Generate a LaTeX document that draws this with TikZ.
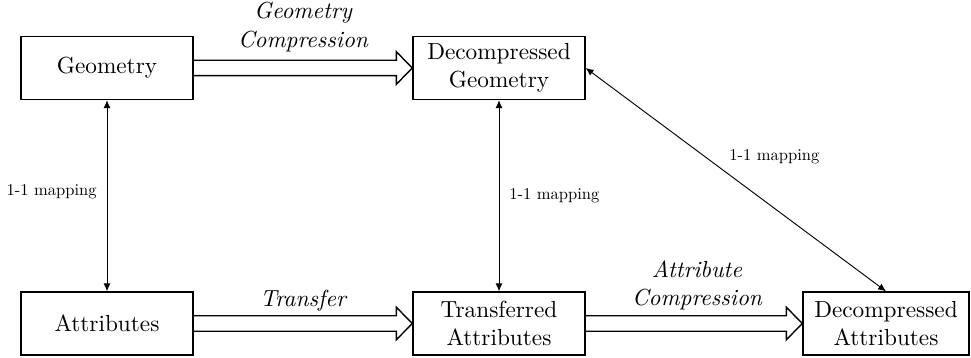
\documentclass[tikz,border=0pt]{standalone}
\usetikzlibrary{arrows.meta,calc}
\begin{document}
\begin{tikzpicture}[x=0.43pt,y=-0.43pt,
  box/.style={draw,line width=0.6pt,rectangle,inner sep=0pt,minimum width={172*0.43pt},minimum height={63*0.43pt},align=center,font=\fontsize{10}{12.2}\selectfont},
  fat/.style={line width=0.6pt,line join=miter},
  thinarr/.style={line width=0.4pt,{Latex[length=3.4pt,width=3pt]}-{Latex[length=3.4pt,width=3pt]}},
  maplab/.style={font=\fontsize{10}{12}\selectfont,inner sep=0pt},
  arrlab/.style={font=\fontsize{10}{12.2}\selectfont\itshape,align=center,inner sep=0pt}]
\useasboundingbox (0,0) rectangle (971,358);
\node[box] (geo) at (107,68) {Geometry};
\node[box] (dgeo) at (499,68) {Decompressed\\Geometry};
\node[box] (attr) at (107,323.5) {Attributes};
\node[box] (tattr) at (499,323.5) {Transferred\\Attributes};
\node[box,minimum width={166*0.43pt}] (dattr) at (886,323.5) {Decompressed\\Attributes};
\newcommand\fatarrow[2]{%
  \draw[fat] ($(#1.east)+(0,-7.7)$) -- ($(#2.west)+(-16,-7.7)$) -- ($(#2.west)+(-16,-16.3)$) -- (#2.west) -- ($(#2.west)+(-16,16.3)$) -- ($(#2.west)+(-16,7.7)$) -- ($(#1.east)+(0,7.7)$);}
\newcommand\maptext{\scalebox{0.71}{1-1 mapping}}
\fatarrow{geo}{dgeo}
\fatarrow{attr}{tattr}
\fatarrow{tattr}{dattr}
\path (geo.east) -- node[arrlab,yshift={41*0.43pt}] {Geometry\\Compression} (dgeo.west);
\path (attr.east) -- node[arrlab,yshift={23*0.43pt}] {Transfer} (tattr.west);
\path (tattr.east) -- node[arrlab,yshift={38*0.43pt},xshift={3*0.43pt}] {Attribute\\Compression} (dattr.west);
\draw[thinarr] (geo.south) -- node[maplab,anchor=east,xshift={-10*0.43pt},yshift={4*0.43pt}] {\maptext} (attr.north);
\draw[thinarr] (dgeo.south) -- node[maplab,anchor=west,xshift={10*0.43pt}] {\maptext} (tattr.north);
\draw[thinarr] (dgeo.east) -- node[maplab,xshift={38.5*0.43pt},yshift={23*0.43pt}] {\maptext} (dattr.north);
\end{tikzpicture}
\end{document}
